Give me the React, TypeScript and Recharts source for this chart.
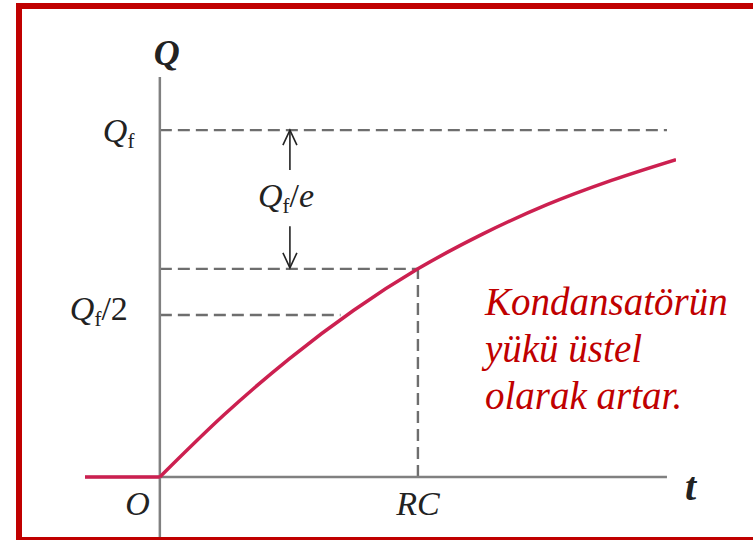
import React from 'react';
import { LineChart, Line, XAxis, YAxis, ReferenceLine, ReferenceDot } from 'recharts';

// Q = Qf(1 - e^(-t/RC)) eğrisi, t RC biriminde, Q ise Qf biriminde
const flatTimes = [-0.29, 0];
const flatCharge = [0, 0];
const times = [0, 0.25, 0.5, 0.75, 1.0, 1.25, 1.5, 1.75, 2.0];
const charge = [0, 0.18, 0.34, 0.48, 0.6, 0.7, 0.785, 0.855, 0.915];

// kesikli çizgi seviyeleri
const qFinal = 1;
const qHalf = 0.467;
const qAtRC = 0.6;
const tRC = 1;
const tArrow = 0.504;

const flatData = flatTimes.map((t, i) => ({ t, q: flatCharge[i] }));
const curveData = times.map((t, i) => ({ t, q: charge[i] }));

const SERIF = '"Liberation Serif", "DejaVu Serif", serif';
const INK = '#222';
const AXIS = '#808080';
const DASH = '#6e6e6e';

// Q_f yazısı (alt indisli)
const QSub = ({ x, y, suffix, italicTail, size = 34 }: any) => (
  <text x={x} y={y} fontFamily={SERIF} fontSize={size} fill={INK}>
    <tspan fontStyle="italic">Q</tspan>
    <tspan fontSize={size * 0.62} dy={6}>f</tspan>
    {suffix ? <tspan dy={-6} fontSize={size}>{suffix}</tspan> : null}
    {italicTail ? <tspan fontStyle="italic">{italicTail}</tspan> : null}
  </text>
);

const FinalLabel = ({ viewBox }: any) => <QSub x={viewBox.x - 57} y={viewBox.y + 12} />;
const HalfLabel = ({ viewBox }: any) => <QSub x={viewBox.x - 90} y={viewBox.y + 5} suffix="/2" />;

const ArrowHead = ({ viewBox, dir }: any) => {
  const x = viewBox.x;
  const tip = dir === 'up' ? viewBox.y : viewBox.y + viewBox.height;
  const s = dir === 'up' ? 1 : -1;
  return (
    <g>
      <path d={`M${x - 7},${tip + s * 15} L${x},${tip} L${x + 7},${tip + s * 15}`} fill="none" stroke={INK} strokeWidth={1.6} />
      {dir === 'up' ? <QSub x={x - 32} y={viewBox.y + viewBox.height + 37} suffix="/" italicTail="e" /> : null}
    </g>
  );
};

const VAxisLabel = ({ viewBox }: any) => (
  <text x={viewBox.x - 6} y={viewBox.y - 12} fontFamily={SERIF} fontSize={36} fontStyle="italic" fontWeight="bold" fill={INK}>Q</text>
);

const HAxisLabel = ({ viewBox }: any) => (
  <text x={viewBox.x + viewBox.width + 18} y={viewBox.y + 23} fontFamily={SERIF} fontSize={40} fontStyle="italic" fontWeight="bold" fill={INK}>t</text>
);

const OriginLabel = ({ viewBox }: any) => (
  <text x={viewBox.x + viewBox.width / 2 - 10} y={viewBox.y + viewBox.height / 2 + 38} textAnchor="end" fontFamily={SERIF} fontSize={34} fontStyle="italic" fill={INK}>O</text>
);

const RCLabel = ({ viewBox }: any) => (
  <text x={viewBox.x} y={viewBox.y + viewBox.height + 38} textAnchor="middle" fontFamily={SERIF} fontSize={34} fontStyle="italic" fill={INK}>RC</text>
);

export default function App() {
  return (
    <div style={{ position: 'relative', width: 753, height: 540, overflow: 'hidden', background: '#fff' }}>
      <style>{'body{margin:0}'}</style>
      <LineChart width={753} height={540} margin={{ top: 77, right: 77, bottom: 3, left: 85 }}>
        <XAxis type="number" dataKey="t" domain={[-0.29, 2.0]} allowDataOverflow hide />
        <YAxis type="number" dataKey="q" domain={[-0.173, 1.153]} allowDataOverflow hide />

        {/* kesikli yardımcı çizgiler */}
        <ReferenceLine segment={[{ x: 0, y: qFinal }, { x: 1.965, y: qFinal }]} stroke={DASH} strokeWidth={2.4} strokeDasharray="12 6" label={<FinalLabel />} />
        <ReferenceLine segment={[{ x: 0, y: qAtRC }, { x: tRC, y: qAtRC }]} stroke={DASH} strokeWidth={2.4} strokeDasharray="12 6" />
        <ReferenceLine segment={[{ x: 0, y: qHalf }, { x: 0.7, y: qHalf }]} stroke={DASH} strokeWidth={2.4} strokeDasharray="12 6" label={<HalfLabel />} />
        <ReferenceLine segment={[{ x: tRC, y: 0 }, { x: tRC, y: qAtRC }]} stroke={DASH} strokeWidth={2.4} strokeDasharray="12 6" label={<RCLabel />} />

        {/* Qf/e oklari */}
        <ReferenceLine segment={[{ x: tArrow, y: 0.885 }, { x: tArrow, y: qFinal }]} stroke={INK} strokeWidth={1.6} label={<ArrowHead dir="up" />} />
        <ReferenceLine segment={[{ x: tArrow, y: qAtRC + 0.003 }, { x: tArrow, y: 0.723 }]} stroke={INK} strokeWidth={1.6} label={<ArrowHead dir="down" />} />

        {/* eksenler */}
        <ReferenceLine segment={[{ x: 0, y: -0.173 }, { x: 0, y: 1.153 }]} stroke={AXIS} strokeWidth={2.5} label={<VAxisLabel />} />
        <ReferenceLine segment={[{ x: -0.29, y: 0 }, { x: 1.965, y: 0 }]} stroke={AXIS} strokeWidth={2.5} label={<HAxisLabel />} />
        <ReferenceDot x={0} y={0} r={0} fill="none" stroke="none" label={<OriginLabel />} />

        <Line data={flatData} dataKey="q" type="linear" stroke="#cc2050" strokeWidth={3.5} dot={false} isAnimationActive={false} />
        <Line data={curveData} dataKey="q" type="monotone" stroke="#cc2050" strokeWidth={3.5} dot={false} isAnimationActive={false} />
      </LineChart>

      <div
        style={{
          position: 'absolute',
          left: 485,
          top: 278,
          fontFamily: SERIF,
          fontStyle: 'italic',
          fontSize: 39,
          lineHeight: '47px',
          color: '#c00000',
          whiteSpace: 'nowrap',
        }}
      >
        Kondansatörün
        <br />
        yükü üstel
        <br />
        olarak artar.
      </div>

      <div
        style={{
          position: 'absolute',
          left: 16,
          top: 3,
          width: 760,
          height: 540,
          boxSizing: 'border-box',
          border: '6px solid #c00000',
          pointerEvents: 'none',
        }}
      />
    </div>
  );
}
